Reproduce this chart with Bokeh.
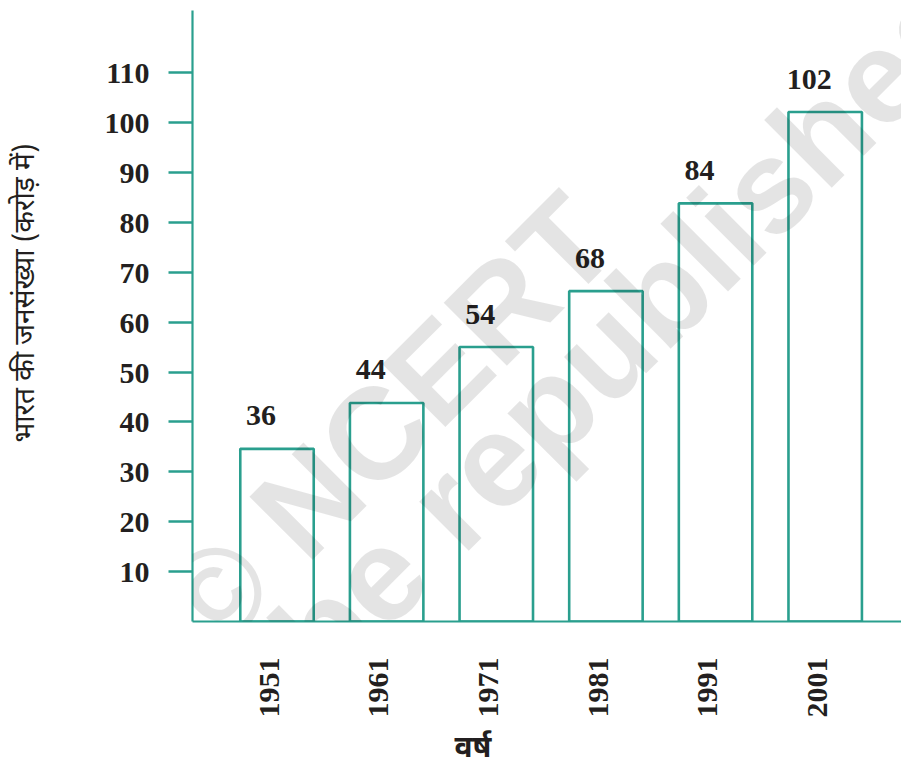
import math
from bokeh.plotting import figure
from bokeh.models import Range1d, FixedTicker, Label, ColumnDataSource, Title
from bokeh.core.properties import value
from bokeh.embed import file_html
from bokeh.resources import INLINE

# ---- data ----
years = ["1951", "1961", "1971", "1981", "1991", "2001"]
population_labels = ["36", "44", "54", "68", "84", "102"]   # printed values (crore)
bar_heights = [34.6, 43.8, 55.0, 66.2, 83.8, 102.1]         # drawn bar heights
y_ticks = [10, 20, 30, 40, 50, 60, 70, 80, 90, 100, 110]
y_tick_labels = [str(t) for t in y_ticks]
y_title = "भारत की जनसंख्या (करोड़ में)"
x_title = "वर्ष"

TEAL = "#2a9f8e"
INK = "#231f20"
NUM_FONT = "Liberation Serif"
DEV_FONT = "Noto Sans Devanagari"
FIG_SPACE = "\u2007"
YEAR_LABEL_SHIFT = -0.072   # year labels sit a little left of bar centres

# frame geometry (pixels) -> data helpers for annotation placement
X0_PX, X_STEP = 276.5, 109.64
Y0_PX, Y_STEP = 621.0, 4.99
def dx(px):
    return (px - X0_PX) / X_STEP
def dy(py):
    return (Y0_PX - py) / Y_STEP

p = figure(width=901, height=778, output_backend="svg", toolbar_location=None,
           x_range=Range1d(dx(192), dx(901)), y_range=Range1d(0, dy(10)),
           min_border_left=192, min_border_right=0, min_border_top=10,
           min_border_bottom=157)
p.outline_line_color = None
p.xgrid.visible = False
p.ygrid.visible = False
p.background_fill_color = "white"
p.border_fill_color = "white"

xs = list(range(len(years)))
src = ColumnDataSource(dict(x=xs, top=bar_heights, lab=population_labels))

p.vbar(x="x", top="top", bottom=0, width=0.67, source=src,
       fill_color=None, line_color=TEAL, line_width=2.6)

p.text(x="x", y="top", text="lab", source=src, x_offset=-16, y_offset=-33,
       text_align="center", text_baseline="middle",
       text_font=value(NUM_FONT), text_font_style="bold",
       text_font_size="30px", text_color=INK)

# y axis (labels padded with figure spaces so they line up on the left)
width_max = max(len(s) for s in y_tick_labels)
ya = p.yaxis[0]
ya.ticker = FixedTicker(ticks=y_ticks)
ya.major_label_overrides = {t: FIG_SPACE * (width_max - len(s)) + s
                            for t, s in zip(y_ticks, y_tick_labels)}
ya.axis_line_color = TEAL
ya.axis_line_width = 2.2
ya.major_tick_line_color = TEAL
ya.major_tick_line_width = 2.6
ya.major_tick_out = 24
ya.major_tick_in = 0
ya.minor_tick_out = 0
ya.minor_tick_in = 0
ya.major_label_standoff = 19
ya.major_label_text_font = NUM_FONT
ya.major_label_text_font_style = "bold"
ya.major_label_text_font_size = "30px"
ya.major_label_text_color = INK
# y title: leading figure spaces nudge the centred title upward like the original
ya.axis_label = FIG_SPACE * 3 + y_title
ya.axis_label_standoff = 57
ya.axis_label_text_font = DEV_FONT
ya.axis_label_text_font_size = "28px"
ya.axis_label_text_font_style = "normal"
ya.axis_label_text_color = INK

# x axis
x_tick_pos = [i + YEAR_LABEL_SHIFT for i in xs]
xa = p.xaxis[0]
xa.ticker = FixedTicker(ticks=x_tick_pos)
xa.major_label_overrides = {t: y for t, y in zip(x_tick_pos, years)}
xa.major_label_orientation = math.pi / 2
xa.axis_line_color = TEAL
xa.axis_line_width = 2.2
xa.major_tick_out = 0
xa.major_tick_in = 0
xa.minor_tick_out = 0
xa.minor_tick_in = 0
xa.major_label_standoff = 36
xa.major_label_text_font = NUM_FONT
xa.major_label_text_font_style = "bold"
xa.major_label_text_font_size = "30px"
xa.major_label_text_color = INK

p.add_layout(Title(text=x_title, align="left", offset=262, standoff=15,
                   vertical_align="bottom",
                   text_font=DEV_FONT, text_font_size="30px",
                   text_font_style="bold", text_color=INK), "below")

# watermark
p.add_layout(Label(x=dx(181), y=dy(627), text="© NCERT", angle=45, angle_units="deg",
                   text_align="left", text_baseline="alphabetic",
                   text_font="Liberation Sans", text_font_style="bold",
                   text_font_size="130px", text_color="black", text_alpha=0.105))
p.add_layout(Label(x=dx(484), y=dy(470), text="not to be republished", angle=45,
                   angle_units="deg", text_align="center", text_baseline="middle",
                   text_font="Liberation Sans", text_font_style="bold",
                   text_font_size="132px", text_color="black", text_alpha=0.105))

open("out.html", "w").write(file_html(p, INLINE))
